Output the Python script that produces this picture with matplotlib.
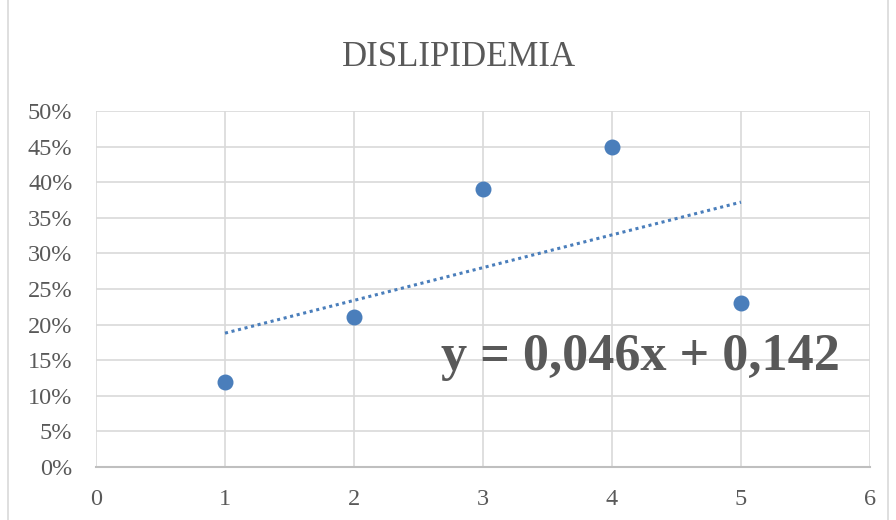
import numpy as np
import matplotlib
matplotlib.use("Agg")
import matplotlib.pyplot as plt
from matplotlib.ticker import PercentFormatter
from matplotlib.patches import Rectangle

# data
x_vals = [1, 2, 3, 4, 5]
y_vals = [0.12, 0.21, 0.39, 0.45, 0.23]
title = "DISLIPIDEMIA"

text_grey = "#595959"
grid_grey = "#D9D9D9"
blue = "#4A7EBB"

plt.rcParams['font.family'] = ['Liberation Serif', 'DejaVu Serif']

fig = plt.figure(figsize=(8.96, 5.2), dpi=100)
ax = fig.add_axes([96 / 896, 1 - 467 / 520, (870 - 96) / 896, (467 - 111) / 520])

# linear trendline from the data
slope, intercept = np.polyfit(x_vals, y_vals, 1)
xt = np.array([min(x_vals), max(x_vals)])
ax.plot(xt, slope * xt + intercept, linestyle=(0, (1, 1.2)), color=blue, linewidth=2.2, zorder=2)

ax.scatter(x_vals, y_vals, s=110, color=blue, edgecolors=blue, zorder=3)

ax.set_xlim(0, 6)
ax.set_ylim(0, 0.5)
ax.set_xticks(range(0, 7))
ax.set_yticks(np.arange(0, 0.501, 0.05))
ax.yaxis.set_major_formatter(PercentFormatter(1.0, decimals=0))
ax.grid(True, color=grid_grey, linewidth=1.2)
ax.set_axisbelow(True)
for s in ['top', 'right', 'left']:
    ax.spines[s].set_visible(False)
ax.spines['bottom'].set_color("#BFBFBF")
ax.spines['bottom'].set_linewidth(1.5)
ax.tick_params(length=0, labelsize=17.5, colors=text_grey)
ax.tick_params(axis='y', pad=17)
ax.tick_params(axis='x', pad=16)

fig.text(459 / 896, 1 - 58 / 520, title, ha='center', va='center', fontsize=25, color=text_grey)

eq = f"y = {slope:.3f}x + {intercept:.3f}".replace(".", ",")
ax.text(5.77, 0.155, eq, ha='right', va='center', fontsize=37.5, fontweight='bold', color=text_grey)

# chart border like the Excel frame
fig.patches.append(Rectangle((8 / 896, -0.01), (888 - 8) / 896, 1.02, transform=fig.transFigure,
                             fill=False, edgecolor="#D9D9D9", linewidth=1.2))

fig.savefig("out.png", dpi=100, facecolor="white")
